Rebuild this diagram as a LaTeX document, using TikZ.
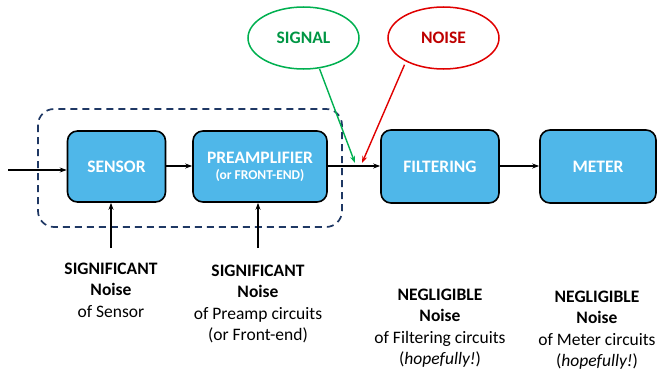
\documentclass[tikz,border=0pt]{standalone}
\usepackage{fontspec}
\setmainfont{Carlito}
\usetikzlibrary{arrows.meta,shapes.geometric}
\definecolor{boxblue}{HTML}{4FB7E9}
\definecolor{navy}{HTML}{1F3864}
\definecolor{sgreen}{HTML}{00B050}
\definecolor{nred}{HTML}{E00000}
\begin{document}
\begin{tikzpicture}[x=1pt,y=-1pt,
  blk/.style={draw=black,line width=1.6pt,fill=boxblue,rounded corners=10pt,text=white,font=\bfseries\fontsize{17.5}{19}\selectfont,align=center},
  conn/.style={-{Stealth[length=7pt,width=5pt]},line width=1.2pt},
  lbl/.style={align=center,font=\fontsize{17.5}{21.5}\selectfont},
  oval/.style={ellipse,draw,line width=1.5pt,fill=white,minimum width=111pt,minimum height=62pt,font=\bfseries\fontsize{17.5}{19}\selectfont}]
\useasboundingbox (0,0) rectangle (657,372);
% dashed group
\draw[navy,dash pattern=on 7pt off 5pt,line width=1.7pt,rounded corners=16pt] (38,109) rectangle (342,227);
% blocks
\node[blk,minimum width=98pt,minimum height=71pt] (sensor) at (116.5,166.5) {SENSOR};
\node[blk,minimum width=134pt,minimum height=71pt] (pre) at (260,166.5) {PREAMPLIFIER\\[-3pt]{\fontsize{13.5}{15}\selectfont(or FRONT-END)}};
\node[blk,minimum width=118pt,minimum height=73pt] (filt) at (440,166.5) {FILTERING};
\node[blk,minimum width=116pt,minimum height=73pt] (meter) at (598,166.5) {METER};
% ellipses
\node[oval,draw=sgreen,text=sgreen!85!black] (signal) at (303.5,38) {SIGNAL};
\node[oval,draw=nred,text=nred!85!black] (noise) at (443.5,38) {NOISE};
% connectors
\coordinate (in) at (8,170);
\draw[conn] (in) -- (sensor.west |- in);
\draw[conn] (sensor.east |- 0,166) -- (pre.west |- 0,166);
\draw[conn] (pre.east |- 0,166) -- (filt.west |- 0,166);
\coordinate (sigend) at (355,163);
\coordinate (noiend) at (362,163);
\draw[conn,sgreen,line width=1.4pt] (signal.south) ++(16,-1) -- (sigend);
\draw[conn,nred,line width=1.4pt] (noise.south) ++(-39,-5) -- (noiend);
\draw[conn] (filt.east |- 0,166) -- (meter.west |- 0,166);
\coordinate (sn) at (111,248);
\coordinate (pn) at (258,248);
\draw[conn] (sn) -- (sn |- sensor.south);
\draw[conn] (pn) -- (pn |- pre.south);
% labels
\node[lbl,anchor=north] (l1) at (111,259) {\textbf{SIGNIFICANT}\\\textbf{Noise}\\of Sensor};
\node[lbl,anchor=north] (l2) at (258,261) {\textbf{SIGNIFICANT}\\\textbf{Noise}\\of Preamp circuits\\(or Front-end)};
\node[lbl,anchor=north] (l3) at (440,285) {\textbf{NEGLIGIBLE}\\\textbf{Noise}\\of Filtering circuits\\(\textit{hopefully!})};
\node[lbl,anchor=north] (l4) at (597,287) {\textbf{NEGLIGIBLE}\\\textbf{Noise}\\of Meter circuits\\(\textit{hopefully!})};
\end{tikzpicture}
\end{document}
